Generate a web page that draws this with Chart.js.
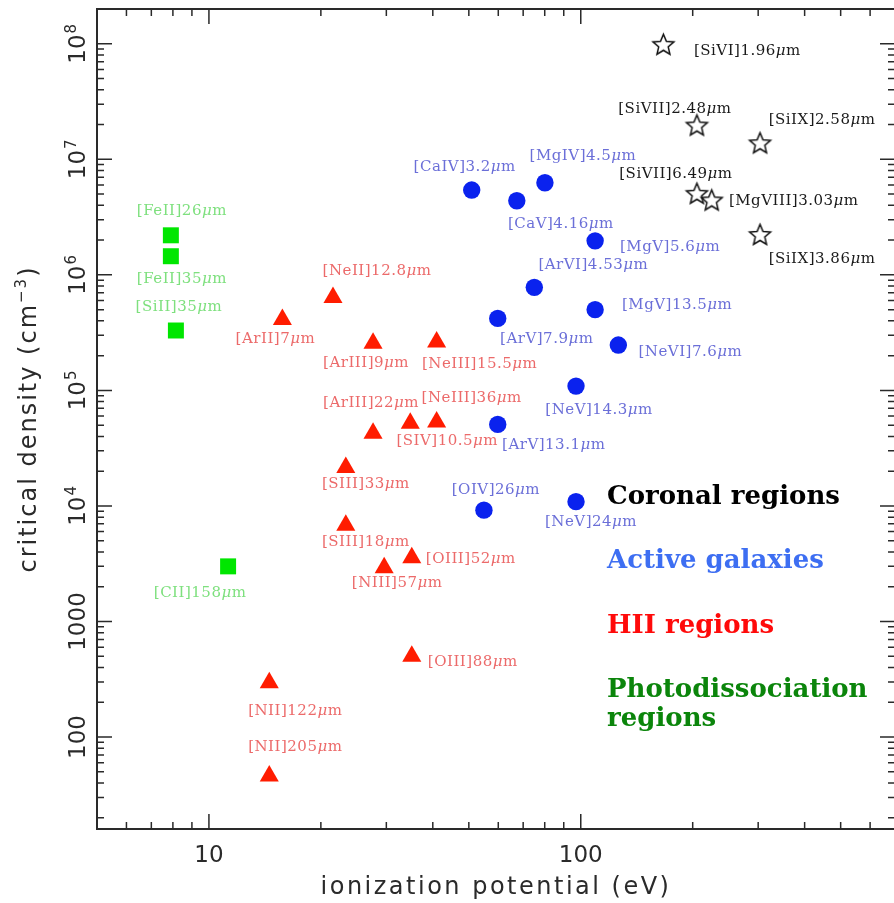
<!DOCTYPE html>
<html>
<head>
<meta charset="utf-8">
<script src="https://cdn.jsdelivr.net/npm/chart.js@4.4.0/dist/chart.umd.min.js"></script>
<style>
  html, body { margin: 0; padding: 0; background: #fff; overflow: hidden; }
  canvas { display: block; }
</style>
</head>
<body>
<canvas id="ncrit" width="896" height="903"></canvas>
<script>
// ---- data: ionization potential (eV) vs critical density (cm^-3) ----

// coronal lines
const coronalLines = ["[SiVI]1.96μm", "[SiVII]2.48μm", "[SiIX]2.58μm", "[SiVII]6.49μm", "[MgVIII]3.03μm", "[SiIX]3.86μm"];
const coronalIP = [166.8, 205.3, 303.5, 205.3, 225.0, 303.5];
const coronalNcrit = [9.9e7, 1.98e7, 1.39e7, 5.08e6, 4.45e6, 2.24e6];

// active galaxies
const agnLines = ["[CaIV]3.2μm", "[CaV]4.16μm", "[MgIV]4.5μm", "[MgV]5.6μm", "[ArVI]4.53μm", "[ArV]7.9μm",
  "[MgV]13.5μm", "[NeVI]7.6μm", "[NeV]14.3μm", "[ArV]13.1μm", "[OIV]26μm", "[NeV]24μm"];
const agnIP = [50.9, 67.3, 80.1, 109.3, 75.0, 59.8, 109.3, 126.2, 97.1, 59.8, 54.9, 97.1];
const agnNcrit = [5.42e6, 4.38e6, 6.27e6, 1.97e6, 7.8e5, 4.2e5, 5.0e5, 2.47e5, 1.09e5, 5.08e4, 9.2e3, 1.09e4];

// HII regions
const hiiLines = ["[ArII]7μm", "[NeII]12.8μm", "[ArIII]9μm", "[NeIII]15.5μm", "[ArIII]22μm", "[SIV]10.5μm",
  "[NeIII]36μm", "[SIII]33μm", "[SIII]18μm", "[NIII]57μm", "[OIII]52μm", "[OIII]88μm", "[NII]122μm", "[NII]205μm"];
const hiiIP = [15.76, 21.56, 27.63, 40.96, 27.63, 34.79, 40.96, 23.34, 23.34, 29.6, 35.12, 35.12, 14.53, 14.53];
const hiiNcrit = [4.1e5, 6.36e5, 2.56e5, 2.63e5, 4.26e4, 5.19e4, 5.34e4, 2.15e4, 6.8e3, 2.92e3, 3.56e3, 500, 295, 46];

// photodissociation regions
const pdrLines = ["[FeII]26μm", "[FeII]35μm", "[SiII]35μm", "[CII]158μm"];
const pdrIP = [7.9, 7.9, 8.15, 11.26];
const pdrNcrit = [2.2e6, 1.45e6, 3.3e5, 3000];

// axis ranges and labelled decades
const xRange = [5, 700];
const yRange = [16, 2e8];
const xTickValues = [10, 100];
const yTickExponents = [2, 3, 4, 5, 6, 7, 8];

// where each line name sits relative to its marker (text centre, px)
const coronalLabelOffsets = [[84, 7], [-22, -16], [62, -23], [-21, -19], [82, 1], [62, 25]];
const agnLabelOffsets = [[-7, -23], [44, 23], [38, -27], [75, 6], [59, -22], [49, 21],
  [82, -5], [72, 7], [23, 24], [56, 21], [12, -20], [15, 20]];
const hiiLabelOffsets = [[-7, 20], [44, -26], [-7, 20], [43, 22], [-2, -30], [37, 18],
  [35, -24], [20, 17], [20, 17], [13, 15], [59, 1], [61, 6], [26, 28], [26, -29]];
const pdrLabelOffsets = [[11, -24], [11, 23], [3, -23], [-28, 27]];

// ---- marker for coronal lines: open five point star ----
function makeStar(outer, inner, lineWidth) {
  const size = Math.ceil(outer * 2 + lineWidth * 2 + 2);
  const c = document.createElement("canvas");
  c.width = size;
  c.height = size;
  const g = c.getContext("2d");
  g.translate(size / 2, size / 2 + 1);
  g.beginPath();
  for (let i = 0; i < 10; i++) {
    const r = i % 2 === 0 ? outer : inner;
    const a = -Math.PI / 2 + i * Math.PI / 5;
    g.lineTo(r * Math.cos(a), r * Math.sin(a));
  }
  g.closePath();
  g.lineWidth = lineWidth;
  g.strokeStyle = "#0d0d0d";
  g.stroke();
  return c;
}

function toPoints(xs, ys) {
  return xs.map((x, i) => ({ x: x, y: ys[i] }));
}

const groups = [
  { lines: coronalLines, offsets: coronalLabelOffsets, textColor: "#1a1a1a" },
  { lines: agnLines, offsets: agnLabelOffsets, textColor: "#6b6fd8" },
  { lines: hiiLines, offsets: hiiLabelOffsets, textColor: "#ec6a6a" },
  { lines: pdrLines, offsets: pdrLabelOffsets, textColor: "#7ee07e" },
];

const AXIS_COLOR = "#2a2a2a";
const AXIS_FONT = "DejaVu Sans";
const LABEL_FONT = "DejaVu Serif";

// line name with an italic mu
function drawLineName(ctx, text, cx, cy, color) {
  const parts = text.split("μ");
  const segs = [
    { t: parts[0], font: "15px '" + LABEL_FONT + "'" },
    { t: "μ", font: "italic 15px '" + LABEL_FONT + "'" },
    { t: parts[1], font: "15px '" + LABEL_FONT + "'" },
  ];
  ctx.letterSpacing = "0.5px";
  let total = 0;
  segs.forEach((s) => {
    ctx.font = s.font;
    s.w = ctx.measureText(s.t).width;
    total += s.w;
  });
  let x = cx - total / 2;
  ctx.fillStyle = color;
  ctx.textAlign = "left";
  ctx.textBaseline = "middle";
  segs.forEach((s) => {
    ctx.font = s.font;
    ctx.fillText(s.t, x, cy);
    x += s.w;
  });
  ctx.letterSpacing = "0px";
}

// "10" with a raised exponent, centred on 0 along the baseline
function drawPower(ctx, exp, baseY) {
  ctx.textBaseline = "alphabetic";
  ctx.textAlign = "left";
  const big = "23px '" + AXIS_FONT + "'";
  const small = "15px '" + AXIS_FONT + "'";
  ctx.font = big;
  const w1 = ctx.measureText("10").width;
  ctx.font = small;
  const w2 = ctx.measureText(String(exp)).width + 1;
  const x0 = -(w1 + w2) / 2;
  ctx.font = big;
  ctx.fillText("10", x0, baseY);
  ctx.font = small;
  ctx.fillText(String(exp), x0 + w1 + 1, baseY - 9);
}

const framePlugin = {
  id: "frame",
  afterDatasetsDraw(chart) {
    const ctx = chart.ctx;
    const area = chart.chartArea;
    const xs = chart.scales.x;
    const ys = chart.scales.y;

    ctx.save();
    // box
    ctx.strokeStyle = AXIS_COLOR;
    ctx.lineWidth = 2;
    ctx.strokeRect(area.left, area.top, area.right - area.left, area.bottom - area.top);

    // inward log ticks on all four sides
    ctx.lineWidth = 1.5;
    ctx.beginPath();
    for (let k = -1; k <= 9; k++) {
      for (let m = 1; m <= 9; m++) {
        const v = m * Math.pow(10, k);
        const len = m === 1 ? 15 : 7;
        if (v > xRange[0] && v < xRange[1]) {
          const px = xs.getPixelForValue(v);
          ctx.moveTo(px, area.bottom);
          ctx.lineTo(px, area.bottom - len);
          ctx.moveTo(px, area.top);
          ctx.lineTo(px, area.top + len);
        }
        if (v > yRange[0] && v < yRange[1]) {
          const py = ys.getPixelForValue(v);
          ctx.moveTo(area.left, py);
          ctx.lineTo(area.left + len, py);
          ctx.moveTo(area.right, py);
          ctx.lineTo(area.right - len, py);
        }
      }
    }
    ctx.stroke();

    // x tick labels
    ctx.fillStyle = AXIS_COLOR;
    ctx.font = "23px '" + AXIS_FONT + "'";
    ctx.textAlign = "center";
    ctx.textBaseline = "alphabetic";
    xTickValues.forEach((v) => {
      ctx.fillText(String(v), xs.getPixelForValue(v), 862);
    });

    // y tick labels, rotated
    yTickExponents.forEach((e) => {
      const py = ys.getPixelForValue(Math.pow(10, e));
      ctx.save();
      ctx.translate(85, py);
      ctx.rotate(-Math.PI / 2);
      if (e < 4) {
        ctx.font = "23px '" + AXIS_FONT + "'";
        ctx.textAlign = "center";
        ctx.textBaseline = "alphabetic";
        ctx.fillText(String(Math.pow(10, e)), 0, 0);
      } else {
        drawPower(ctx, e, 0);
      }
      ctx.restore();
    });

    // axis titles
    ctx.font = "24px '" + AXIS_FONT + "'";
    ctx.textAlign = "center";
    ctx.textBaseline = "alphabetic";
    ctx.letterSpacing = "2.5px";
    ctx.fillText("ionization potential (eV)", (area.left + area.right) / 2, 894);

    ctx.save();
    ctx.translate(36, (area.top + area.bottom) / 2);
    ctx.rotate(-Math.PI / 2);
    ctx.letterSpacing = "2px";
    const main = "critical density (cm";
    ctx.font = "24px '" + AXIS_FONT + "'";
    const wMain = ctx.measureText(main).width;
    ctx.font = "15px '" + AXIS_FONT + "'";
    const wExp = ctx.measureText("−3").width;
    ctx.font = "24px '" + AXIS_FONT + "'";
    const wClose = ctx.measureText(")").width;
    const x0 = -(wMain + wExp + wClose) / 2;
    ctx.textAlign = "left";
    ctx.fillText(main, x0, 0);
    ctx.font = "15px '" + AXIS_FONT + "'";
    ctx.fillText("−3", x0 + wMain, -10);
    ctx.font = "24px '" + AXIS_FONT + "'";
    ctx.fillText(")", x0 + wMain + wExp, 0);
    ctx.restore();
    ctx.letterSpacing = "0px";

    // line names next to markers
    groups.forEach((g, i) => {
      const meta = chart.getDatasetMeta(i);
      meta.data.forEach((pt, j) => {
        const off = g.offsets[j];
        drawLineName(ctx, g.lines[j], pt.x + off[0], pt.y + off[1], g.textColor);
      });
    });

    // region key
    ctx.textAlign = "left";
    ctx.textBaseline = "alphabetic";
    ctx.font = "bold 26px '" + LABEL_FONT + "'";
    ctx.fillStyle = "#000000";
    ctx.fillText("Coronal regions", 607, 504);
    ctx.fillStyle = "#3d6ef2";
    ctx.fillText("Active galaxies", 607, 568);
    ctx.fillStyle = "#ff0a0a";
    ctx.fillText("HII regions", 607, 633);
    ctx.fillStyle = "#0b850b";
    ctx.fillText("Photodissociation", 607, 697);
    ctx.fillText("regions", 607, 726);

    ctx.restore();
  },
};

const ctx = document.getElementById("ncrit").getContext("2d");

new Chart(ctx, {
  type: "scatter",
  data: {
    datasets: [
      {
        label: "Coronal regions",
        data: toPoints(coronalIP, coronalNcrit),
        pointStyle: makeStar(11, 5, 1.5),
        pointRadius: 11,
      },
      {
        label: "Active galaxies",
        data: toPoints(agnIP, agnNcrit),
        pointStyle: "circle",
        pointRadius: 8.7,
        backgroundColor: "#0a22ee",
        borderWidth: 0,
      },
      {
        label: "HII regions",
        data: toPoints(hiiIP, hiiNcrit),
        pointStyle: "triangle",
        pointRadius: 11,
        backgroundColor: "#ff1c00",
        borderWidth: 0,
      },
      {
        label: "Photodissociation regions",
        data: toPoints(pdrIP, pdrNcrit),
        pointStyle: "rect",
        pointRadius: 11.3,
        backgroundColor: "#00e600",
        borderWidth: 0,
      },
    ],
  },
  options: {
    responsive: false,
    animation: false,
    events: [],
    layout: {
      autoPadding: false,
      padding: { left: 97, top: 9, right: 1, bottom: 74 },
    },
    plugins: {
      legend: { display: false },
      tooltip: { enabled: false },
    },
    scales: {
      x: { type: "logarithmic", min: xRange[0], max: xRange[1], display: false },
      y: { type: "logarithmic", min: yRange[0], max: yRange[1], display: false },
    },
  },
  plugins: [framePlugin],
});
</script>
</body>
</html>
